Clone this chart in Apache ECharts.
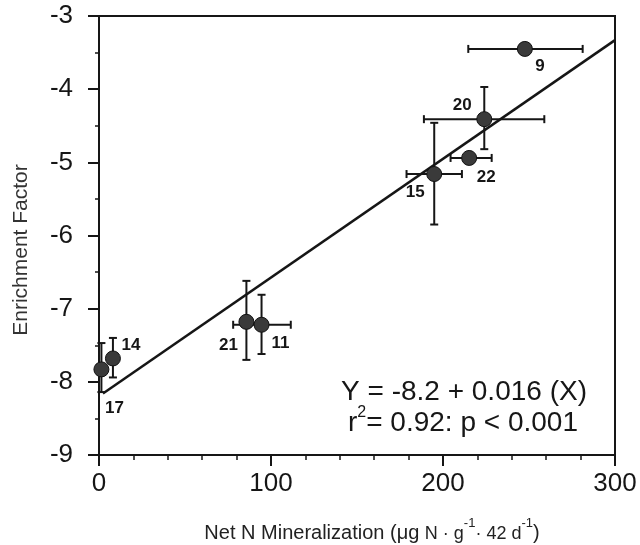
<!DOCTYPE html>
<html>
<head>
<meta charset="utf-8">
<script src="https://cdn.jsdelivr.net/npm/echarts@6/dist/echarts.min.js"></script>
<style>html,body{margin:0;padding:0;background:#fff}#c{width:640px;height:545px}</style>
</head>
<body>
<div id="c"></div>
<script>
// ---- data ----
const sites      = ['9', '20', '22', '15', '21', '11', '14', '17'];
const netN       = [247.6, 224.0, 215.2, 194.9, 85.7, 94.5, 8.1, 1.4];
const enrichment = [-3.45, -4.41, -4.94, -5.16, -7.18, -7.22, -7.68, -7.83];
const netNLow    = [214.7, 188.9, 204.4, 178.8, 85.7, 78.0, 8.1, 1.4];
const netNHigh   = [281.2, 258.9, 228.3, 211.0, 85.7, 111.5, 8.1, 1.4];
const efLow      = [-3.45, -4.82, -4.94, -5.85, -7.70, -7.62, -7.94, -8.14];
const efHigh     = [-3.45, -3.97, -4.94, -4.46, -6.62, -6.81, -7.40, -7.47];
const fitX       = [2.3, 300];
const fitY       = [-8.16, -3.33];
const xTicks     = [0, 100, 200, 300];
const yTicks     = [-9, -8, -7, -6, -5, -4, -3];

// ---- styling (label offsets in pixels) ----
const labelOffset = {
  '9': [15, 17], '20': [-22, -14], '22': [17, 19], '15': [-19, 18],
  '21': [-18, 23], '11': [19, 19], '14': [18, -13], '17': [13, 39]
};
const FONT = 'Liberation Sans, Arial, Helvetica, sans-serif';
const INK = '#161616';

const points = sites.map((s, i) => ({
  value: [netN[i], enrichment[i]],
  name: s,
  label: { offset: labelOffset[s] }
}));
const errData = sites.map((s, i) => [netN[i], enrichment[i], netNLow[i], netNHigh[i], efLow[i], efHigh[i]]);

const chart = echarts.init(document.getElementById('c'), null, { renderer: 'canvas' });
chart.setOption({
  animation: false,
  backgroundColor: '#fff',
  grid: { left: 99, right: 25, top: 16, bottom: 90, show: true, borderColor: INK, borderWidth: 2, backgroundColor: 'transparent' },
  xAxis: {
    type: 'value', min: xTicks[0], max: xTicks[xTicks.length - 1], interval: 100,
    axisLine: { show: true, onZero: false, lineStyle: { color: INK, width: 2 } },
    axisTick: { show: true, inside: false, length: 11, lineStyle: { color: INK, width: 2 } },
    minorTick: { show: true, splitNumber: 5, length: 5, lineStyle: { color: INK, width: 1.5 } },
    splitLine: { show: false },
    axisLabel: { color: INK, fontSize: 26, fontFamily: FONT, margin: 16 }
  },
  yAxis: {
    type: 'value', min: yTicks[0], max: yTicks[yTicks.length - 1], interval: 1,
    axisLine: { show: true, onZero: false, lineStyle: { color: INK, width: 2 } },
    axisTick: { show: true, inside: false, length: 11, lineStyle: { color: INK, width: 2 } },
    minorTick: { show: true, splitNumber: 2, length: 4, lineStyle: { color: INK, width: 1.5 } },
    splitLine: { show: false },
    axisLabel: { color: INK, fontSize: 26, fontFamily: FONT, margin: 26 }
  },
  series: [
    {
      type: 'line',
      data: fitX.map((x, i) => [x, fitY[i]]),
      symbol: 'none',
      lineStyle: { color: INK, width: 2.5 },
      z: 2
    },
    {
      type: 'custom',
      data: errData,
      z: 3,
      renderItem: function (params, api) {
        const c = api.coord([api.value(0), api.value(1)]);
        const xl = api.coord([api.value(2), api.value(1)]);
        const xh = api.coord([api.value(3), api.value(1)]);
        const yl = api.coord([api.value(0), api.value(4)]);
        const yh = api.coord([api.value(0), api.value(5)]);
        const cap = 4;
        const st = { stroke: INK, lineWidth: 2 };
        const kids = [];
        if (Math.abs(xh[0] - xl[0]) > 1) {
          kids.push({ type: 'line', shape: { x1: xl[0], y1: c[1], x2: xh[0], y2: c[1] }, style: st });
          kids.push({ type: 'line', shape: { x1: xl[0], y1: c[1] - cap, x2: xl[0], y2: c[1] + cap }, style: st });
          kids.push({ type: 'line', shape: { x1: xh[0], y1: c[1] - cap, x2: xh[0], y2: c[1] + cap }, style: st });
        }
        if (Math.abs(yh[1] - yl[1]) > 1) {
          kids.push({ type: 'line', shape: { x1: c[0], y1: yl[1], x2: c[0], y2: yh[1] }, style: st });
          kids.push({ type: 'line', shape: { x1: c[0] - cap, y1: yl[1], x2: c[0] + cap, y2: yl[1] }, style: st });
          kids.push({ type: 'line', shape: { x1: c[0] - cap, y1: yh[1], x2: c[0] + cap, y2: yh[1] }, style: st });
        }
        return { type: 'group', children: kids };
      }
    },
    {
      type: 'scatter',
      data: points,
      symbol: 'circle',
      symbolSize: 15,
      z: 4,
      itemStyle: { color: '#3a3a3a', borderColor: '#111', borderWidth: 1, opacity: 1 },
      label: {
        show: true, position: 'inside', formatter: '{b}',
        color: INK, fontSize: 17, fontWeight: 'bold', fontFamily: FONT
      }
    }
  ],
  graphic: [
    {
      type: 'text', x: 21, y: 250, rotation: Math.PI / 2,
      style: { text: 'Enrichment Factor', fontSize: 21, fontFamily: FONT, fill: '#333', align: 'center', verticalAlign: 'middle' }
    },
    {
      type: 'text', x: 372, y: 530,
      style: {
        text: '{a|Net N Mineralization (μg }{b|N · g}{s|-1}{b|· 42 d}{s|-1}{a|)}',
        align: 'center', verticalAlign: 'middle', fill: '#222',
        rich: {
          a: { fontSize: 20, fontFamily: FONT, fill: '#222', lineHeight: 26, verticalAlign: 'bottom' },
          b: { fontSize: 18, fontFamily: FONT, fill: '#222', lineHeight: 26, verticalAlign: 'bottom' },
          s: { fontSize: 13, fontFamily: FONT, fill: '#222', lineHeight: 26, verticalAlign: 'top' }
        }
      }
    },
    {
      type: 'text', x: 464, y: 392,
      style: { text: 'Y = -8.2 + 0.016 (X)', fontSize: 28, fontFamily: FONT, fill: INK, align: 'center', verticalAlign: 'middle' }
    },
    {
      type: 'text', x: 463, y: 421,
      style: {
        text: '{a|r}{s|2}{a|= 0.92: p < 0.001}',
        align: 'center', verticalAlign: 'middle', fill: INK,
        rich: {
          a: { fontSize: 28, fontFamily: FONT, fill: INK, lineHeight: 32, verticalAlign: 'bottom' },
          s: { fontSize: 16, fontFamily: FONT, fill: INK, lineHeight: 32, verticalAlign: 'top' }
        }
      }
    }
  ]
});
</script>
</body>
</html>
